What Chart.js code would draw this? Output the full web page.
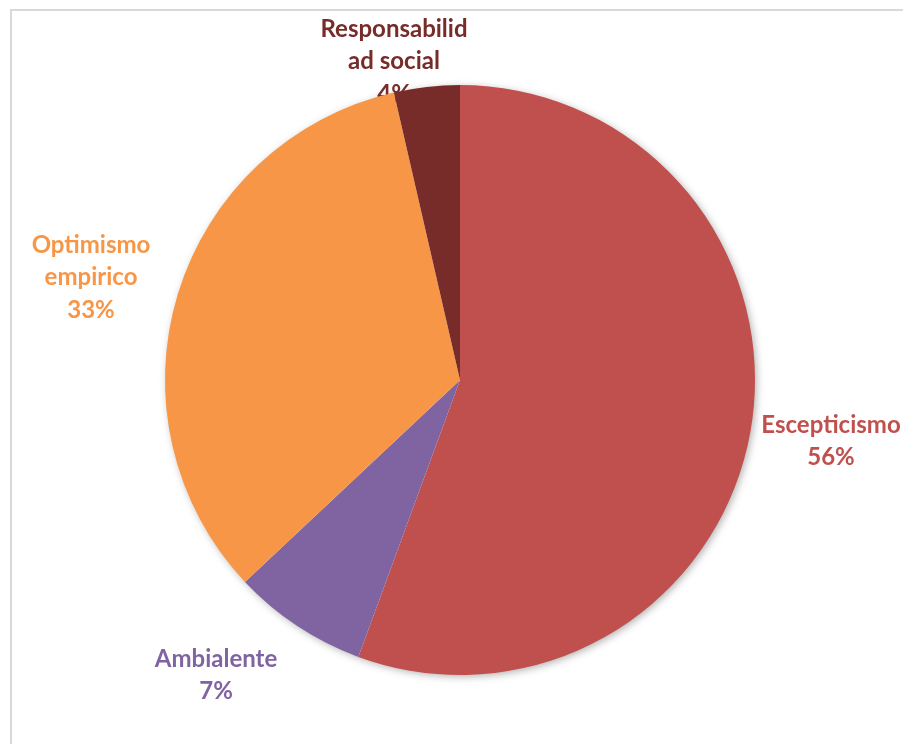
<!DOCTYPE html>
<html>
<head>
<meta charset="utf-8">
<script src="https://cdn.jsdelivr.net/npm/chart.js@4.4.1/dist/chart.umd.min.js"></script>
<style>
    html, body { margin: 0; padding: 0; background: #ffffff; }
    #wrap { position: relative; width: 903px; height: 744px; overflow: hidden; }
    #frame { position: absolute; left: 10px; top: 9px; width: 1000px; height: 1000px; border-top: 2px solid #d9d9d9; border-left: 2px solid #d9d9d9; box-sizing: border-box; }
    canvas { position: absolute; left: 0; top: 0; }
</style>
</head>
<body>
<div id="wrap">
    <div id="frame"></div>
    <canvas id="pie" width="903" height="744"></canvas>
</div>
<script>
const categories = ["Escepticismo", "Ambialente", "Optimismo empirico", "Responsabilidad social"];
const labelLines = [["Escepticismo"], ["Ambialente"], ["Optimismo", "empirico"], ["Responsabilid", "ad social"]];
const shares = [55.6, 7.4, 33.4, 3.6];
const sliceColors = ["#c0504d", "#8064a2", "#f79646", "#772c2a"];

// where Excel put each label block (centre x, middle of first line)
const labelSpots = [
    { x: 831, y: 425 },
    { x: 216, y: 659 },
    { x: 91, y: 245 },
    { x: 394, y: 29 }
];

const pieShadow = {
    id: "pieShadow",
    beforeDatasetsDraw(chart) {
        const arc = chart.getDatasetMeta(0).data[0];
        if (!arc) return;
        const ctx = chart.ctx;
        ctx.save();
        ctx.shadowColor = "rgba(0,0,0,0.35)";
        ctx.shadowBlur = 9;
        ctx.shadowOffsetX = 2;
        ctx.shadowOffsetY = 2;
        ctx.fillStyle = "#ffffff";
        ctx.beginPath();
        ctx.arc(arc.x, arc.y, arc.outerRadius - 1, 0, Math.PI * 2);
        ctx.fill();
        ctx.restore();
    }
};

const outsideLabels = {
    id: "outsideLabels",
    beforeDatasetsDraw(chart) {
        const ctx = chart.ctx;
        const data = chart.data.datasets[0].data;
        const total = data.reduce((a, b) => a + b, 0);
        ctx.save();
        ctx.font = "bold 24px Lato, 'Open Sans', sans-serif";
        ctx.textAlign = "center";
        ctx.textBaseline = "middle";
        data.forEach((value, i) => {
            const lines = [...labelLines[i], `${Math.round(value / total * 100)}%`];
            ctx.fillStyle = sliceColors[i];
            lines.forEach((line, k) => ctx.fillText(line, labelSpots[i].x, labelSpots[i].y + k * 32.5));
        });
        ctx.restore();
    }
};

new Chart(document.querySelector("#pie"), {
    type: "pie",
    data: {
        labels: categories,
        datasets: [{ data: shares, backgroundColor: sliceColors, borderWidth: 0 }]
    },
    options: {
        responsive: false,
        animation: false,
        layout: { padding: { top: 85, bottom: 69, left: 165, right: 148 } },
        plugins: { legend: { display: false }, tooltip: { enabled: false } }
    },
    plugins: [pieShadow, outsideLabels]
});
</script>
</body>
</html>
